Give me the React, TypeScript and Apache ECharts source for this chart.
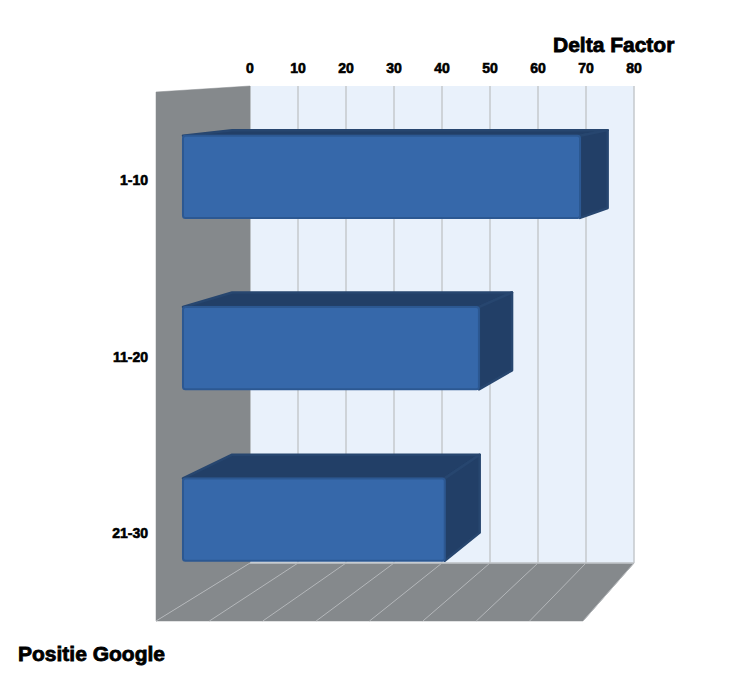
import React, { useEffect, useRef } from "react";
import * as echarts from "echarts";

const categories = ["1-10", "11-20", "21-30"];
const deltaFactor = [76.6, 57.1, 50.5];
const axisMin = 0;
const axisMax = 80;
const axisStep = 10;
const floorTicks = [0, 10, 20, 30, 40, 50, 60, 70, 80];

const BACK = { x: 250, y: 86, w: 384, h: 477 };
const FRONT = { x: 156, y: 92, w: 427, h: 529 };
const BAR_FRONT_DEPTH = 0.713;
const BAR_BACK_DEPTH = 0.19;
const BAR_HALF = 0.24;
const BAR_SHIFT = 0.005;

const FONT = '"Liberation Sans", Arial, sans-serif';
const WALL = "#85898c";
const FACE = "#3668aa";
const FACE_EDGE = "#2c5892";
const DARK = "#223f67";
const DARK_EDGE = "#27466f";

// Front-plane pixel from the front grid's own scales, then back-plane by the matching
// position on the back wall, then a blend according to the depth.
function project(api: any, v: number, u: number, depth: number): number[] {
  const fx = api.coord([v, 0])[0];
  const fy = api.coord([0, 0])[1] + (u - 0.5) * api.size([0, 1])[1];
  const bx = BACK.x + ((fx - FRONT.x) / FRONT.w) * BACK.w;
  const by = BACK.y + ((fy - FRONT.y) / FRONT.h) * BACK.h;
  return [bx + (fx - bx) * depth, by + (fy - by) * depth];
}

const renderWalls = (_p: any, api: any) => {
  const n = categories.length;
  const style = { fill: WALL, stroke: WALL, lineWidth: 0.5 };
  const a = project(api, axisMin, n, 0);
  const b = project(api, axisMax, n, 0);
  return {
    type: "group",
    children: [
      {
        type: "polygon",
        shape: { points: [project(api, axisMin, 0, 1), project(api, axisMin, 0, 0), a, project(api, axisMin, n, 1)] },
        style,
      },
      {
        type: "polygon",
        shape: { points: [project(api, axisMin, n, 1), a, b, project(api, axisMax, n, 1)] },
        style,
      },
      {
        type: "line",
        shape: { x1: a[0], y1: a[1], x2: b[0], y2: b[1] },
        style: { stroke: "#c4c8cc", lineWidth: 1.5 },
      },
    ],
  };
};

const renderFloorLine = (_p: any, api: any) => {
  const v = api.value(0);
  const n = categories.length;
  const a = project(api, v, n, 0);
  const b = project(api, v, n, 1);
  return {
    type: "line",
    shape: { x1: a[0], y1: a[1], x2: b[0], y2: b[1] },
    style: { stroke: "#b4b7ba", lineWidth: 1 },
  };
};

const renderBar = (_p: any, api: any) => {
  const v = api.value(0);
  const i = api.value(1);
  const u0 = i + 0.5 + BAR_SHIFT - BAR_HALF;
  const u1 = i + 0.5 + BAR_SHIFT + BAR_HALF;
  const ftl = project(api, axisMin, u0, BAR_FRONT_DEPTH);
  const ftr = project(api, v, u0, BAR_FRONT_DEPTH);
  const fbr = project(api, v, u1, BAR_FRONT_DEPTH);
  const fbl = project(api, axisMin, u1, BAR_FRONT_DEPTH);
  const btl = project(api, axisMin, u0, BAR_BACK_DEPTH);
  const btr = project(api, v, u0, BAR_BACK_DEPTH);
  const bbr = project(api, v, u1, BAR_BACK_DEPTH);
  const darkStyle = { fill: DARK, stroke: DARK_EDGE, lineWidth: 2.5, lineJoin: "round" };
  return {
    type: "group",
    children: [
      { type: "polygon", shape: { points: [ftl, btl, btr, ftr] }, style: darkStyle },
      { type: "polygon", shape: { points: [ftr, btr, bbr, fbr] }, style: darkStyle },
      {
        type: "rect",
        shape: { x: ftl[0], y: ftl[1], width: ftr[0] - ftl[0], height: fbl[1] - ftl[1], r: 2.5 },
        style: { fill: FACE, stroke: FACE_EDGE, lineWidth: 2 },
      },
    ],
  };
};

const titleStyle = {
  fontFamily: FONT,
  fontSize: 21,
  fontWeight: "bold",
  color: "#000",
  textBorderColor: "#000",
  textBorderWidth: 0.8,
};

const option: any = {
  animation: false,
  backgroundColor: "#ffffff",
  title: [
    { text: "Delta Factor", left: 548, top: 29, textStyle: titleStyle },
    { text: "Positie Google", left: 13, top: 638, textStyle: titleStyle },
  ],
  grid: [
    { left: BACK.x, top: BACK.y, width: BACK.w, height: BACK.h, show: true, backgroundColor: "#e9f1fb", borderWidth: 0 },
    { left: FRONT.x, top: FRONT.y, width: FRONT.w, height: FRONT.h, show: false },
  ],
  xAxis: [
    {
      gridIndex: 0,
      type: "value",
      position: "top",
      min: axisMin,
      max: axisMax,
      interval: axisStep,
      axisLine: { show: false },
      axisTick: { show: false },
      axisLabel: {
        show: true,
        margin: 11,
        fontFamily: FONT,
        fontSize: 14,
        fontWeight: "bold",
        color: "#000",
        textBorderColor: "#000",
        textBorderWidth: 0.6,
        showMinLabel: true,
        showMaxLabel: true,
      },
      splitLine: { show: true, lineStyle: { color: "#c4c8cc", width: 1.5 } },
    },
    { gridIndex: 1, type: "value", min: axisMin, max: axisMax, interval: axisStep, show: false },
  ],
  yAxis: [
    { gridIndex: 0, type: "category", data: categories, inverse: true, show: false },
    {
      gridIndex: 1,
      type: "category",
      data: categories,
      inverse: true,
      axisLine: { show: false },
      axisTick: { show: false },
      splitLine: { show: false },
      axisLabel: {
        margin: 8,
        fontFamily: FONT,
        fontSize: 14,
        fontWeight: "bold",
        color: "#000",
        textBorderColor: "#000",
        textBorderWidth: 0.6,
      },
    },
  ],
  series: [
    {
      type: "custom",
      name: "walls",
      xAxisIndex: 1,
      yAxisIndex: 1,
      z: 3,
      silent: true,
      renderItem: renderWalls,
      data: [[axisMin, 0]],
    },
    {
      type: "custom",
      name: "floor",
      xAxisIndex: 1,
      yAxisIndex: 1,
      z: 4,
      silent: true,
      renderItem: renderFloorLine,
      data: floorTicks.map((t) => [t, 0]),
    },
    {
      type: "custom",
      name: "Delta Factor",
      xAxisIndex: 1,
      yAxisIndex: 1,
      z: 5,
      renderItem: renderBar,
      encode: { x: 0, y: 1 },
      data: deltaFactor.map((v, i) => [v, i]),
    },
  ],
};

export default function App() {
  const ref = useRef<HTMLDivElement>(null);
  useEffect(() => {
    const chart = echarts.init(ref.current as HTMLDivElement, undefined, { renderer: "svg" });
    chart.setOption(option);
    return () => chart.dispose();
  }, []);
  return <div ref={ref} style={{ position: "absolute", left: 0, top: 0, width: 733, height: 682 }} />;
}
